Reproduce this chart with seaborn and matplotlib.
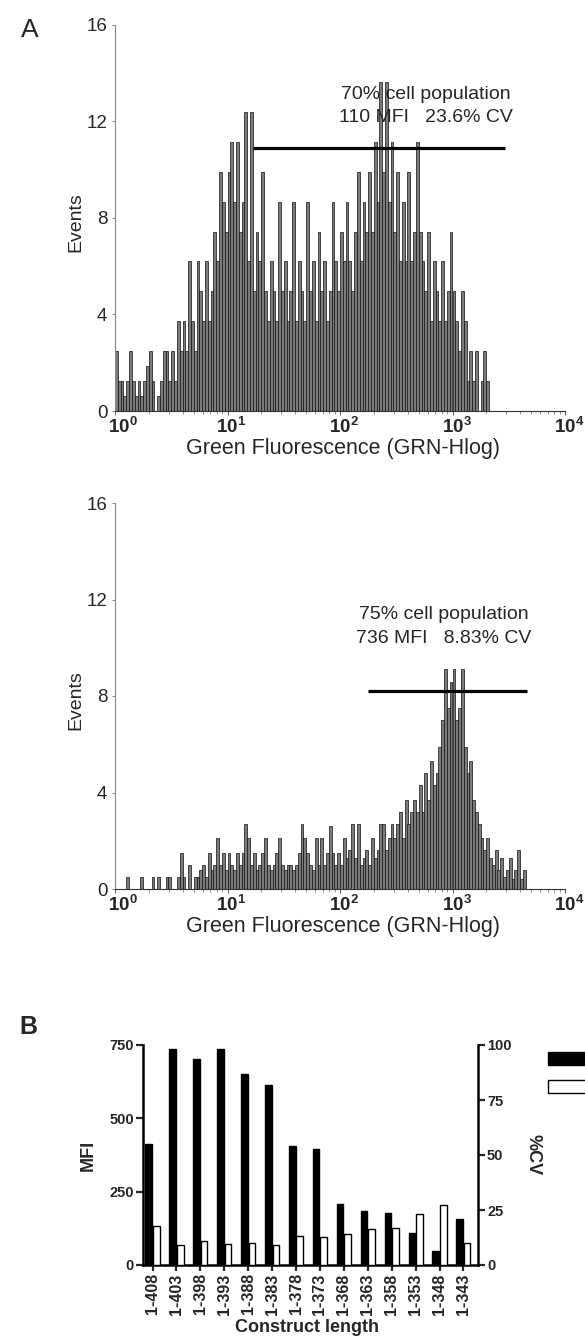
import matplotlib
matplotlib.use('Agg')
import matplotlib.pyplot as plt
import matplotlib.transforms as mtransforms
from matplotlib.patches import Patch
import numpy as np
import pandas as pd
import seaborn as sns

# --- Panel A: flow cytometry histograms (1/40 decade channels from 10^0) ---
CHANNELS_PER_DECADE = 40
EVENTS_PER_COUNT = 1.24  # one count step on the printed "Events" scale

# top histogram, counts per channel (read as steps off the picture)
top_counts = [
    2, 1, 1, 0.5, 1, 2, 1, 0.5, 1, 0.5, 1, 1.5, 2, 1, 0, 0.5, 1, 2, 2, 1, 2, 1, 3, 2,
    3, 2, 5, 3, 2, 5, 4, 3, 5, 3, 4, 6, 5, 8, 7, 6, 8, 9, 7, 9, 6, 7, 10, 5,
    10, 4, 6, 5, 8, 4, 3, 5, 4, 3, 7, 4, 5, 3, 4, 7, 3, 5, 4, 3, 7, 4, 5, 3,
    6, 4, 5, 3, 4, 7, 5, 4, 6, 5, 7, 5, 4, 6, 8, 5, 7, 6, 8, 6, 9, 7, 11, 8,
    11, 7, 9, 6, 8, 5, 7, 5, 8, 5, 6, 9, 6, 5, 4, 6, 3, 5, 4, 3, 5, 3, 4, 6,
    4, 3, 2, 4, 3, 1, 2, 1, 2, 0, 1, 2, 1, 0,
]
top_gate = [17, 2950]      # fluorescence range of the marker
top_gate_level = 10.9
top_lines = ['70% cell population', '110 MFI   23.6% CV']

# bottom histogram, events per channel
bottom_events = [
    0, 0, 0, 0, 0.5, 0, 0, 0, 0, 0.5, 0, 0, 0, 0.5, 0, 0.5, 0, 0, 0.5, 0.5, 0, 0, 0.5, 1.5,
    0.5, 0, 1.0, 0, 0.5, 0.5, 0.8, 1.0, 0.5, 1.5, 0.8, 1.0, 2.1, 1.0, 1.5, 0.8, 1.5, 1.0, 0.8, 1.5, 1.0, 1.5, 2.7, 2.1,
    1.0, 1.5, 0.8, 1.0, 1.5, 2.1, 1.0, 0.8, 1.0, 1.5, 2.1, 1.0, 0.8, 1.0, 1.0, 0.8, 1.0, 1.5, 2.7, 2.1, 1.5, 1.0, 0.8, 2.1,
    1.0, 2.1, 1.0, 1.5, 2.6, 1.5, 1.0, 1.5, 1.0, 2.1, 1.3, 1.6, 2.7, 1.3, 2.7, 1.0, 1.3, 1.6, 1.0, 2.1, 1.3, 1.6, 2.7, 2.7,
    1.6, 2.1, 2.7, 2.1, 2.7, 3.2, 2.1, 3.7, 2.7, 3.2, 3.7, 3.2, 4.3, 3.2, 4.8, 3.7, 5.3, 4.3, 4.8, 5.9, 7.0, 9.1, 7.5, 8.6,
    9.1, 7.0, 7.5, 9.1, 5.9, 4.8, 5.3, 3.7, 3.2, 2.7, 2.1, 1.6, 2.1, 1.3, 1.0, 1.6, 0.8, 1.3, 0.5, 0.8, 1.3, 0.4, 0.8, 1.6, 0.4, 0.8,
]
bottom_gate = [178, 4600]
bottom_gate_level = 8.2
bottom_lines = ['75% cell population', '736 MFI   8.83% CV']

y_ticks = [0, 4, 8, 12, 16]

# --- Panel B: MFI and %CV per construct ---
constructs = ['1-408', '1-403', '1-398', '1-393', '1-388', '1-383', '1-378',
              '1-373', '1-368', '1-363', '1-358', '1-353', '1-348', '1-343']
mfi = [413, 738, 701, 735, 652, 615, 405, 396, 207, 185, 176, 108, 48, 156]
cv = [17.8, 9.0, 11.0, 9.4, 9.9, 9.1, 13.2, 12.9, 14.3, 16.3, 16.9, 23.4, 27.4, 10.2]

sns.set_style('ticks')
plt.rcParams['font.family'] = ['Liberation Sans', 'DejaVu Sans']
plt.rcParams['mathtext.fontset'] = 'custom'
plt.rcParams['mathtext.rm'] = 'Liberation Sans'
plt.rcParams['mathtext.bf'] = 'Liberation Sans:bold'

W, H = 585, 1341
fig = plt.figure(figsize=(W / 100, H / 100), dpi=100)


def draw_histogram(ax, events, gate, gate_level, lines, text_x, text_y):
    edges = np.arange(len(events) + 1) / CHANNELS_PER_DECADE
    hist_df = pd.DataFrame({'decade': (edges[:-1] + edges[1:]) / 2,
                            'events': list(events)})
    sns.histplot(data=hist_df, x='decade', weights='events', bins=edges.tolist(),
                 ax=ax, color='#7b7b7b', edgecolor='#101010', linewidth=0.5, alpha=1)
    ax.hlines(gate_level, np.log10(gate[0]), np.log10(gate[1]), color='black', lw=2.3)
    for k, line in enumerate(lines):
        ax.text(text_x, text_y - k * 0.06, line, transform=ax.transAxes,
                ha='center', va='center', fontsize=14)
    ax.set_xlim(0, 4)
    ax.set_ylim(0, 16)
    ax.set_xticks(range(5))
    ax.set_xticklabels([r'$\mathbf{10^{%d}}$' % k for k in range(5)], fontsize=13.5)
    ax.set_xticks([k + np.log10(m) for k in range(4) for m in range(2, 10)], minor=True)
    ax.set_yticks(y_ticks)
    ax.set_yticklabels([str(v) for v in y_ticks], fontsize=13.5)
    ax.tick_params(axis='x', which='major', length=3, width=0.6, pad=1.5, color='#444')
    ax.tick_params(axis='x', which='minor', length=2, width=0.5, color='#666')
    ax.tick_params(axis='y', length=2.5, width=0.6, pad=3, color='#777')
    # decade labels sit a little right of their ticks in the print
    for k, lab in enumerate(ax.get_xticklabels()):
        dx = (8 if k == 0 else 4) / 100
        lab.set_transform(lab.get_transform()
                          + mtransforms.ScaledTranslation(dx, 0, fig.dpi_scale_trans))
    ax.set_xlabel('Green Fluorescence (GRN-Hlog)', fontsize=15.5, va='center')
    ax.xaxis.set_label_coords(0.507, -0.096)
    ax.set_ylabel('Events', fontsize=14, va='center')
    ax.yaxis.set_label_coords(-0.087, 0.49)
    sns.despine(ax=ax)
    ax.spines['left'].set_color('#8a8a8a')
    ax.spines['left'].set_linewidth(0.8)
    ax.spines['bottom'].set_color('#333')
    ax.spines['bottom'].set_linewidth(0.8)


ax_top = fig.add_axes([115 / W, 1 - 411 / H, 450 / W, 386 / H])
draw_histogram(ax_top, np.array(top_counts) * EVENTS_PER_COUNT, top_gate,
               top_gate_level, top_lines, 0.691, 0.821)

ax_bot = fig.add_axes([115 / W, 1 - 889 / H, 450 / W, 386 / H])
draw_histogram(ax_bot, bottom_events, bottom_gate, bottom_gate_level,
               bottom_lines, 0.731, 0.71)

# --- Panel B ---
df = pd.DataFrame({
    'construct': constructs * 2,
    'measure': ['MFI'] * len(constructs) + ['%CV'] * len(constructs),
    'value': mfi + cv,
})
ax_b = fig.add_axes([143 / W, 1 - 1265 / H, 335 / W, 220 / H])
ax_b2 = ax_b.twinx()
bar_kw = dict(x='construct', y='value', hue='measure', hue_order=['MFI', '%CV'],
              order=constructs, palette={'MFI': 'black', '%CV': 'white'},
              dodge=True, width=0.63, gap=0.12, edgecolor='black', linewidth=1.0,
              errorbar=None, legend=False)
sns.barplot(data=df[df['measure'] == 'MFI'], ax=ax_b, **bar_kw)
sns.barplot(data=df[df['measure'] == '%CV'], ax=ax_b2, **bar_kw)

ax_b.set_xlim(-0.40, 13.61)
ax_b.set_ylim(0, 750)
ax_b2.set_ylim(0, 100)
ax_b.set_yticks([0, 250, 500, 750])
ax_b2.set_yticks([0, 25, 50, 75, 100])
ax_b.set_xticks(range(len(constructs)))
ax_b.set_xticklabels(constructs, rotation=90, fontweight='bold', fontsize=11.5)
for t in ax_b.get_yticklabels() + ax_b2.get_yticklabels():
    t.set_fontweight('bold')
    t.set_fontsize(10.5)
ax_b.tick_params(axis='y', length=5, width=1.6, pad=1.5)
ax_b.tick_params(axis='x', length=4, width=1.6, pad=2)
ax_b2.tick_params(axis='y', length=5, width=1.6, pad=1.5)

for side in ['top', 'right']:
    ax_b.spines[side].set_visible(False)
for side in ['top', 'left', 'bottom']:
    ax_b2.spines[side].set_visible(False)
for sp in [ax_b.spines['left'], ax_b.spines['bottom'], ax_b2.spines['right']]:
    sp.set_linewidth(1.8)
    sp.set_color('black')

ax_b.set_ylabel('MFI', fontsize=13, fontweight='bold', va='center')
ax_b.yaxis.set_label_coords(-0.164, 0.5)
ax_b2.set_ylabel('%CV', fontsize=13, fontweight='bold', rotation=270, va='center')
ax_b2.yaxis.set_label_coords(1.164, 0.5)
ax_b.set_xlabel('Construct length', fontsize=13, fontweight='bold', va='center')
ax_b.xaxis.set_label_coords(0.49, -0.282)

# legend keys only; their labels fall beyond the right edge of the print
fig.legend(handles=[Patch(facecolor='black', edgecolor='black'),
                    Patch(facecolor='white', edgecolor='black', linewidth=1.0)],
           labels=['', ''], loc='upper left',
           bbox_to_anchor=(548 / W, 1 - 1052 / H), frameon=False,
           fontsize=11, handlelength=2.8, handleheight=0.95,
           handletextpad=0.0, labelspacing=0.85, borderpad=0, borderaxespad=0)

fig.text(30 / W, 1 - 30 / H, 'A', fontsize=19, ha='center', va='center')
fig.text(28 / W, 1 - 1027 / H, 'B', fontsize=18, fontweight='bold', ha='center', va='center')

fig.savefig('out.png', dpi=100)
